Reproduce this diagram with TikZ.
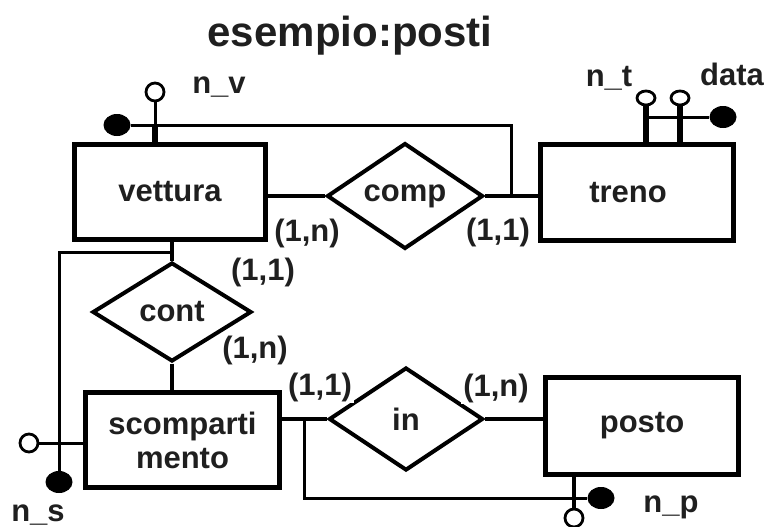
\documentclass[tikz,border=0pt]{standalone}
\usepackage{fontspec}
\setmainfont{Liberation Sans}
\usetikzlibrary{shapes.geometric,calc}
\begin{document}
\begin{tikzpicture}[x=1pt,y=-1pt,
  every node/.style={font=\bfseries\fontsize{31}{34}\selectfont, text=black!88},
  entity/.style={draw, rectangle, line width=5pt, inner sep=0pt},
  relation/.style={draw, diamond, line width=4pt, inner sep=0pt},
  conn/.style={line width=3.2pt},
  idline/.style={line width=3pt},
  stem/.style={line width=5.5pt},
  attr/.style={draw, circle, line width=2.8pt, fill=white, minimum size=18pt, inner sep=0pt},
  attre/.style={draw, ellipse, line width=2.8pt, fill=white, minimum width=18pt, minimum height=14pt, inner sep=0pt},
  dot/.style={ellipse, fill=black, minimum width=27pt, minimum height=22pt, inner sep=0pt},
  card/.style={fill=white, inner sep=2pt},
  lbl/.style={inner sep=0pt, anchor=base}]
\useasboundingbox (0,0) rectangle (766,527);

% title
\node[lbl, font=\bfseries\fontsize{42}{48}\selectfont] (title) at (350,47) {esempio:posti};

% entities
\node[entity, minimum width=191pt, minimum height=95pt] (vettura) at (170,192) {vettura};
\node[entity, minimum width=193pt, minimum height=96pt] (treno) at (637,192.5) {treno\hspace*{18pt}};
\node[entity, minimum width=194pt, minimum height=95pt, align=center] (scomp) at (182.5,440) {scomparti\\mento};
\node[entity, minimum width=193pt, minimum height=97pt] (posto) at (642,426) {posto};

% relationships
\node[relation, minimum width=156pt, minimum height=104pt] (comp) at (405,196) {comp};
\node[relation, minimum width=159pt, minimum height=99pt] (cont) at (172,312) {cont};
\node[relation, minimum width=154pt, minimum height=103pt] (in) at (406,419) {in};

% attributes
\node[attr] (nv) at (155,92) {};
\node[dot] (nvk) at (117,125) {};
\node[attre] (nt) at (646,98) {};
\node[attre] (da) at (680,98) {};
\node[dot] (tk) at (723,117) {};
\node[attr] (ns) at (29,443) {};
\node[dot] (nsk) at (59,482) {};
\node[attr] (np) at (574,518) {};
\node[dot] (npk) at (601,498) {};

% attribute labels
\node[lbl] (nvl) at (219,93) {n\_v};
\node[lbl] (ntl) at (609,87) {n\_t};
\node[lbl] (dal) at (732,85) {data};
\node[lbl] (nsl) at (38,521) {n\_s};
\node[lbl] (npl) at (671,512) {n\_p};

% connectors
\draw[conn] (comp.west) -- (comp.west -| vettura.east);
\draw[conn] (comp.east) -- (comp.east -| treno.west);
\draw[conn] (cont.north) -- (cont.north |- vettura.south);
\draw[conn] (cont.south) -- (cont.south |- scomp.north);
\draw[conn] (in.west) -- (in.west -| scomp.east);
\draw[conn] (in.east) -- (in.east -| posto.west);

% identifier of vettura
\draw[idline] (nv.south) -- (nv.south |- vettura.north);
\draw[stem] (nv.south |- vettura.north) -- (nv.south |- nvk);
\coordinate (ctj) at ($(comp.east)!0.5!(comp.east -| treno.west)$);
\draw[idline] (nvk) -- (nvk -| ctj) -- (ctj);

% identifier of treno
\draw[stem] (nt.south) -- (nt.south |- treno.north);
\draw[stem] (da.south) -- (da.south |- treno.north);
\draw[idline] (tk) -- (tk -| nt);

% identifier of scompartimento
\draw[idline] (ns) -- (ns -| scomp.west);
\coordinate (vcj) at ($(cont.north |- vettura.south)!0.55!(cont.north)$);
\draw[idline] (nsk) -- (nsk |- vcj) -- (vcj);

% identifier of posto
\draw[line width=3.5pt] (np) -- (np |- posto.south);
\coordinate (sij) at ($(in.west -| scomp.east)!0.5!(in.west)$);
\draw[idline] (npk) -- (npk -| sij) -- (sij);

% cardinalities
\node[card] (c1) at (307,233) {(1,n)};
\node[card] (c2) at (498,232) {(1,1)};
\node[card] (c3) at (263,272) {(1,1)};
\node[card] (c4) at (255,350) {(1,n)};
\node[card] (c5) at (320,387) {(1,1)};
\node[card] (c6) at (496,388) {(1,n)};
\end{tikzpicture}
\end{document}
